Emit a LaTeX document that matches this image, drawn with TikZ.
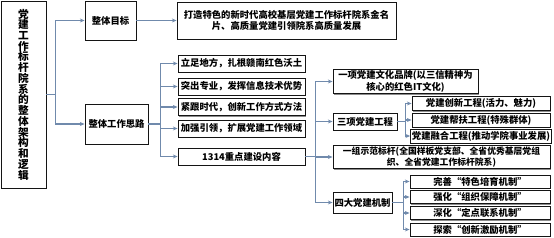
\documentclass[tikz,border=0pt]{standalone}
\usepackage{fontspec}
\setmainfont{Noto Sans CJK SC}
\usetikzlibrary{arrows.meta,shadows}
\definecolor{LinkBlue}{RGB}{112,138,172}
\definecolor{BoxLine}{RGB}{20,20,20}
\tikzset{
  kbox/.style={draw=BoxLine,fill=white,line width=0.7pt,inner sep=1pt,
               font=\fontsize{7}{8.5}\selectfont\bfseries,align=center,
               drop shadow={shadow xshift=0.8pt,shadow yshift=-0.8pt,fill=black!45,opacity=1}},
  sz/.style 2 args={minimum width=#1*0.75pt,minimum height=#2*0.75pt},
  link/.style={-{Stealth[length=3.5pt,width=3pt]},LinkBlue,line width=0.9pt},
}
\begin{document}
\begin{tikzpicture}[x=0.75pt,y=-0.75pt]
    \useasboundingbox (0,0) rectangle (554,238);
    % Root
    \node[kbox, sz={45}{187}, font=\fontsize{8}{8.05}\selectfont\bfseries] (logic) at (23.5, 94.5)
        {党\\建\\工\\作\\标\\杆\\院\\系\\的\\整\\体\\架\\构\\和\\逻\\辑};

    % Level 1
    \node[kbox, sz={51}{39}] (target) at (110.5, 20.5) {整体目标};
    \node[kbox, sz={63}{40}] (idea) at (116.5, 124) {整体工作思路};

    % Goal
    \node[kbox, sz={219}{37}] (goal) at (286.5, 20.5)
        {打造特色的新时代高校基层党建工作标杆院系金名\\片、高质量党建引领院系高质量发展};

    % Work ideas
    \node[kbox, sz={127}{17}] (p1) at (241.5, 63.5) {立足地方，扎根赣南红色沃土};
    \node[kbox, sz={127}{17}] (p2) at (241.5, 86.5) {突出专业，发挥信息技术优势};
    \node[kbox, sz={127}{17}] (p3) at (241.5, 107) {紧跟时代，创新工作方式方法};
    \node[kbox, sz={127}{17}] (p4) at (241.5, 128.5) {加强引领，扩展党建工作领域};
    \node[kbox, sz={127}{17}] (p5) at (241.5, 156.5) {1314重点建设内容};

    % 1314
    \node[kbox, sz={145}{23}] (brand) at (405.5, 81.5)
        {一项党建文化品牌(以三信精神为\\核心的红色IT文化)};
    \node[kbox, sz={64}{17}] (proj) at (365, 121.5) {三项党建工程};
    \node[kbox, sz={217}{22}, font=\fontsize{6.6}{8.2}\selectfont\bfseries] (model) at (441.5, 157)
        {一组示范标杆(全国样板党支部、全省优秀基层党组\\织、全省党建工作标杆院系)};
    \node[kbox, sz={59}{21}] (mech) at (362.5, 202.5) {四大党建机制};

    % Projects
    \node[kbox, sz={138}{14}] (q1) at (481, 103.5) {党建创新工程(活力、魅力)};
    \node[kbox, sz={138}{14}] (q2) at (481, 120) {党建帮扶工程(特殊群体)};
    \node[kbox, sz={138}{14}] (q3) at (481, 136) {党建融合工程(推动学院事业发展)};

    % Mechanisms
    \node[kbox, sz={140}{13}] (m1) at (480, 181.5) {完善“特色培育机制”};
    \node[kbox, sz={140}{13}] (m2) at (480, 197) {强化“组织保障机制”};
    \node[kbox, sz={140}{13}] (m3) at (480, 213) {深化“定点联系机制”};
    \node[kbox, sz={140}{13}] (m4) at (480, 229.5) {探索“创新激励机制”};

    % Connectors
    \foreach \n in {target, idea}
        \draw[link] (logic.east) -- ++(9,0) |- (\n.west);
    \draw[link] (target.east) -- (goal.west);
    \foreach \n in {p1, p2, p3, p4, p5}
        \draw[link] (idea.east) -- ++(12,0) |- (\n.west);
    \foreach \n in {brand, proj, model, mech}
        \draw[link] (p5.east) -- ++(10,0) |- (\n.west);
    \foreach \n in {q1, q2, q3}
        \draw[link] (proj.east) -- ++(8,0) |- (\n.west);
    \foreach \n in {m1, m2, m3, m4}
        \draw[link] (mech.east) -- ++(11,0) |- (\n.west);
\end{tikzpicture}
\end{document}
